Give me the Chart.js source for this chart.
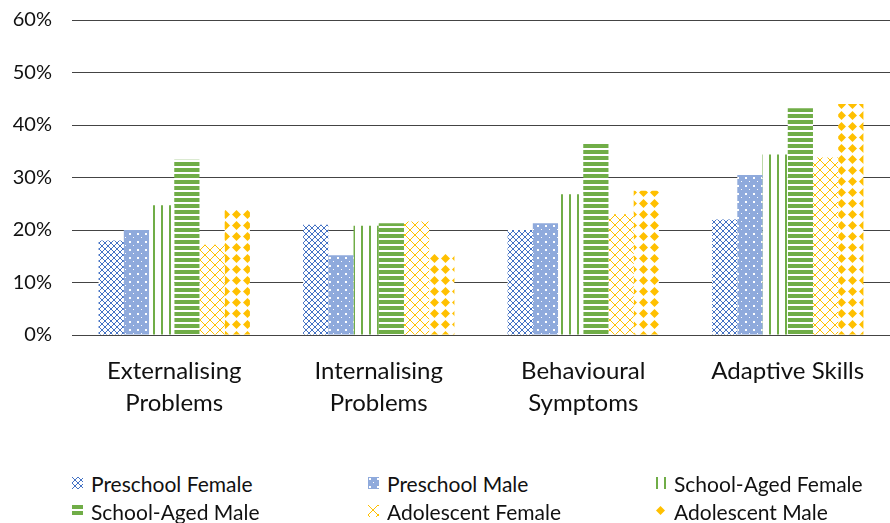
<!DOCTYPE html>
<html>
<head>
<meta charset="utf-8">
<script src="https://cdn.jsdelivr.net/npm/chart.js@4"></script>
<style>
  html, body { margin: 0; padding: 0; background: #fff; }
  #wrap { position: relative; width: 890px; height: 523px; }
  #chart { position: absolute; left: 0; top: 0; }
  #legend { position: absolute; left: 72px; top: 472px; width: 818px;
            display: grid; grid-template-columns: 296px 287px 235px; row-gap: 6px;
            font-family: Lato, sans-serif; font-size: 21px; color: #111; }
  .item { display: flex; align-items: center; height: 22px; }
  .item canvas { margin-right: 8px; }
</style>
</head>
<body>
<div id="wrap">
  <canvas id="chart" width="890" height="440"></canvas>
  <div id="legend"></div>
</div>
<script>
const categories = [['Externalising', 'Problems'], ['Internalising', 'Problems'], ['Behavioural', 'Symptoms'], ['Adaptive Skills']];
const seriesNames = ['Preschool Female', 'Preschool Male', 'School-Aged Female', 'School-Aged Male', 'Adolescent Female', 'Adolescent Male'];
const preschoolFemale = [18.0, 21.0, 20.0, 22.0];
const preschoolMale = [20.0, 15.2, 21.3, 30.5];
const schoolAgedFemale = [24.7, 20.8, 26.8, 34.4];
const schoolAgedMale = [33.4, 21.3, 36.4, 43.2];
const adolescentFemale = [17.2, 21.6, 23.0, 33.8];
const adolescentMale = [24.2, 15.6, 27.5, 44.0];
const yTicks = [0, 10, 20, 30, 40, 50, 60];

function makePattern(kind) {
  const t = document.createElement('canvas');
  const g = t.getContext('2d');
  if (kind === 'cross') {
    t.width = 6; t.height = 6;
    g.fillStyle = '#fff'; g.fillRect(0, 0, 6, 6);
    g.strokeStyle = '#4472C4'; g.lineWidth = 1;
    g.beginPath(); g.moveTo(0, 0); g.lineTo(6, 6); g.moveTo(6, 0); g.lineTo(0, 6); g.stroke();
  } else if (kind === 'dots') {
    t.width = 8; t.height = 8;
    g.fillStyle = '#8FAADC'; g.fillRect(0, 0, 8, 8);
    g.fillStyle = '#fff'; g.fillRect(1, 1, 2, 2); g.fillRect(5, 5, 1, 1);
  } else if (kind === 'vstripe') {
    t.width = 8; t.height = 4;
    g.fillStyle = '#fff'; g.fillRect(0, 0, 8, 4);
    g.fillStyle = '#70AD47'; g.fillRect(1, 0, 2, 4);
  } else if (kind === 'hstripe') {
    t.width = 4; t.height = 6;
    g.fillStyle = '#fff'; g.fillRect(0, 0, 4, 6);
    g.fillStyle = '#70AD47'; g.fillRect(0, 0, 4, 4);
  } else if (kind === 'lattice') {
    t.width = 10; t.height = 10;
    g.fillStyle = '#fff'; g.fillRect(0, 0, 10, 10);
    g.strokeStyle = '#FFC000'; g.lineWidth = 1;
    g.beginPath(); g.moveTo(0, 0); g.lineTo(10, 10); g.moveTo(10, 0); g.lineTo(0, 10); g.stroke();
  } else if (kind === 'diamond') {
    t.width = 11; t.height = 11;
    g.fillStyle = '#fff'; g.fillRect(0, 0, 11, 11);
    g.fillStyle = '#FFC000';
    g.beginPath(); g.moveTo(5.5, 1); g.lineTo(10, 5.5); g.lineTo(5.5, 10); g.lineTo(1, 5.5); g.closePath(); g.fill();
  }
  return g.createPattern(t, 'repeat');
}

const kinds = ['cross', 'dots', 'vstripe', 'hstripe', 'lattice', 'diamond'];
const values = [preschoolFemale, preschoolMale, schoolAgedFemale, schoolAgedMale, adolescentFemale, adolescentMale];

const datasets = seriesNames.map((name, i) => ({
  label: name,
  data: values[i],
  backgroundColor: makePattern(kinds[i]),
  borderWidth: 0,
  categoryPercentage: 0.74,
  barPercentage: 1.0
}));

const ctx = document.getElementById('chart').getContext('2d');
new Chart(ctx, {
  type: 'bar',
  data: { labels: categories, datasets: datasets },
  options: {
    responsive: false,
    animation: false,
    layout: { padding: 0 },
    plugins: { legend: { display: false }, tooltip: { enabled: false } },
    scales: {
      x: {
        grid: { display: false },
        border: { display: false },
        ticks: { font: { family: 'Lato', size: 24, lineHeight: 1.33 }, color: '#111', padding: 12, maxRotation: 0 },
        afterFit: s => { s.height = 105; s.paddingTop = 0; s.paddingBottom = 0; }
      },
      y: {
        min: 0, max: 60,
        afterBuildTicks: s => { s.ticks = yTicks.map(v => ({ value: v })); },
        grid: { color: '#444', lineWidth: 1, drawTicks: false },
        border: { display: false },
        ticks: { font: { family: 'Lato', size: 20 }, color: '#111', padding: 20, callback: v => v + '%' },
        afterFit: s => { s.width = 72; s.paddingTop = 20; s.paddingBottom = 0; }
      }
    }
  }
});

// legend as html, swatches use same patterns
const legend = document.getElementById('legend');
seriesNames.forEach((name, i) => {
  const item = document.createElement('div');
  item.className = 'item';
  const sw = document.createElement('canvas');
  sw.width = 11; sw.height = 12;
  const sg = sw.getContext('2d');
  sg.fillStyle = makePattern(kinds[i]);
  sg.fillRect(0, 0, 11, 12);
  item.appendChild(sw);
  const span = document.createElement('span');
  span.textContent = name;
  item.appendChild(span);
  legend.appendChild(item);
});
</script>
</body>
</html>
